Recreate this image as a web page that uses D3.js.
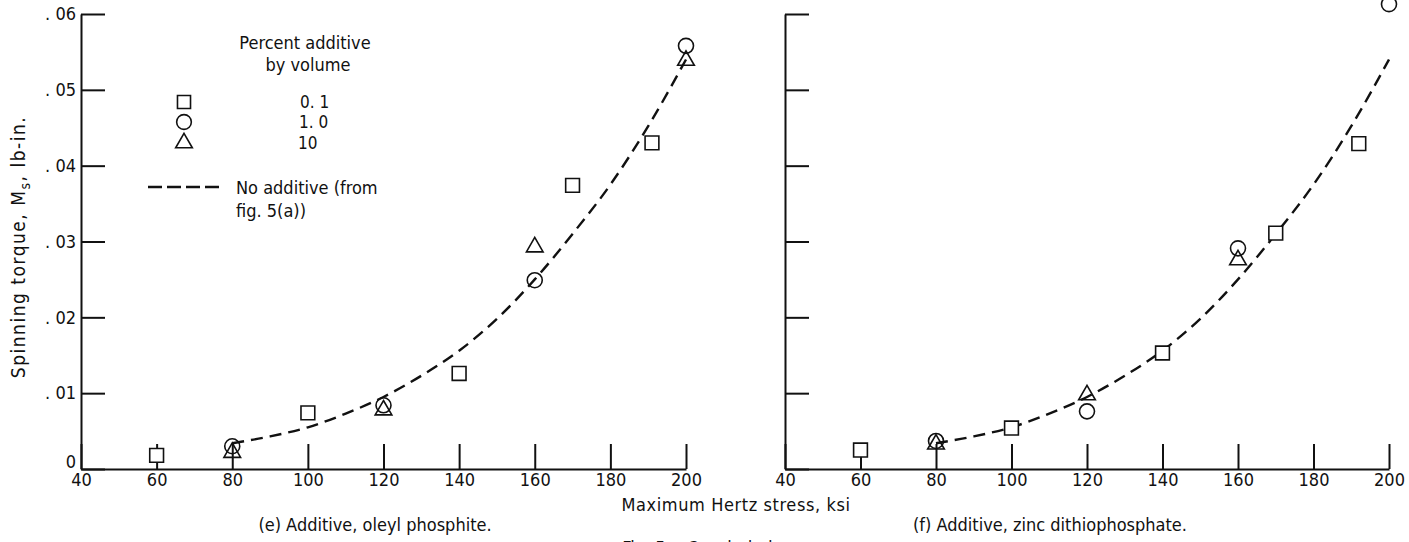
<!DOCTYPE html>
<html>
<head>
<meta charset="utf-8">
<script src="https://cdn.jsdelivr.net/npm/d3@7"></script>
<style>
  body { margin: 0; background: #fff; }
  svg { display: block; }
  text { font-family: "DejaVu Sans Condensed", "DejaVu Sans", sans-serif; font-stretch: condensed; fill: #111; }
  .axis path, .axis line { stroke: #111; stroke-width: 2; }
</style>
</head>
<body>
<svg id="chart"></svg>
<script>
// Fig. 5 (concluded) - spinning torque vs max Hertz stress

var xTicks = [40, 60, 80, 100, 120, 140, 160, 180, 200];
var yTicks = [0, 0.01, 0.02, 0.03, 0.04, 0.05, 0.06];
var yTickLabels = ["0", ". 01", ". 02", ". 03", ". 04", ". 05", ". 06"];

// "No additive (from fig. 5(a))" reference curve
var noAddStress = [80, 90, 100, 110, 120, 130, 140, 150, 160, 170, 180, 190, 200];
var noAddTorque = [0.0034, 0.0043, 0.0055, 0.0073, 0.0095, 0.0123, 0.0156, 0.0198, 0.0250, 0.0310, 0.0375, 0.0452, 0.0540];

// (e) oleyl phosphite
var eSquare = [[60, 0.0018], [100, 0.0074], [140, 0.0126], [170, 0.0374], [191, 0.0430]];
var eCircle = [[80, 0.0030], [120, 0.0084], [160, 0.0249], [200, 0.0558]];
var eTriangle = [[80, 0.0023], [120, 0.0079], [160, 0.0294], [200, 0.0540]];

// (f) zinc dithiophosphate
var fSquare = [[60, 0.0025], [100, 0.0054], [140, 0.0153], [170, 0.0311], [192, 0.0429]];
var fCircle = [[80, 0.0037], [120, 0.0076], [160, 0.0291], [200, 0.0613]];
var fTriangle = [[80, 0.0034], [120, 0.0099], [160, 0.0277]];

var legendLabels = ["0. 1", "1. 0", "10"];

var width = 1409, height = 542;
var svg = d3.select("#chart").attr("width", width).attr("height", height);

var y = d3.scaleLinear().domain([0, 0.06]).range([469, 14]);

var curve = noAddStress.map(function(s, i) { return [s, noAddTorque[i]]; });

function panel(x0, x1, showYLabels, squares, circles, triangles) {
    var x = d3.scaleLinear().domain([40, 200]).range([x0, x1]);
    var g = svg.append("g");

    var yAxis = d3.axisLeft(y)
        .tickValues(yTicks)
        .tickSize(-24)
        .tickSizeOuter(0)
        .tickPadding(5)
        .tickFormat(function(d, i) { return showYLabels ? yTickLabels[i] : ""; });

    var xAxis = d3.axisBottom(x)
        .tickValues(xTicks)
        .tickSize(-25)
        .tickSizeOuter(0)
        .tickPadding(4)
        .tickFormat(d3.format("d"));

    var ya = g.append("g").attr("class", "axis")
        .attr("transform", "translate(" + x0 + ",0)")
        .call(yAxis);
    ya.selectAll("text").style("font-size", "18px")
        .attr("dy", function(d) { return d == 0 ? "-0.08em" : "0.32em"; });
    var xa = g.append("g").attr("class", "axis")
        .attr("transform", "translate(0,469)")
        .call(xAxis);
    xa.selectAll("line").attr("stroke-width", 1.5);
    xa.selectAll("text").style("font-size", "18px");

    var line = d3.line()
        .x(function(d) { return x(d[0]); })
        .y(function(d) { return y(d[1]); })
        .curve(d3.curveMonotoneX);

    g.append("path")
        .datum(curve)
        .attr("d", line)
        .attr("fill", "none")
        .attr("stroke", "#111")
        .attr("stroke-width", 2.4)
        .attr("stroke-dasharray", "12,7");

    var sym = function(type, size) { return d3.symbol().type(type).size(size)(); };

    g.selectAll(".sq").data(squares).enter().append("path")
        .attr("d", sym(d3.symbolSquare, 190))
        .attr("transform", function(d) { return "translate(" + x(d[0]) + "," + y(d[1]) + ")"; })
        .attr("fill", "#fff").attr("stroke", "#111").attr("stroke-width", 1.6);

    g.selectAll(".ci").data(circles).enter().append("circle")
        .attr("cx", function(d) { return x(d[0]); })
        .attr("cy", function(d) { return y(d[1]); })
        .attr("r", 7.5)
        .attr("fill", "none").attr("stroke", "#111").attr("stroke-width", 1.6);

    g.selectAll(".tr").data(triangles).enter().append("path")
        .attr("d", sym(d3.symbolTriangle, 120))
        .attr("transform", function(d) { return "translate(" + x(d[0]) + "," + (y(d[1]) + 1) + ")"; })
        .attr("fill", "none").attr("stroke", "#111").attr("stroke-width", 1.6);

    return x;
}

panel(81, 686, true, eSquare, eCircle, eTriangle);
panel(785, 1389, false, fSquare, fCircle, fTriangle);

// legend
var lg = svg.append("g").style("font-size", "18px");
lg.append("text").attr("x", 305).attr("y", 49).attr("text-anchor", "middle").text("Percent additive");
lg.append("text").attr("x", 308).attr("y", 71).attr("text-anchor", "middle").text("by volume");
var legendSym = [d3.symbolSquare, d3.symbolCircle, d3.symbolTriangle];
var legendSize = [170, 170, 120];
var legendY = [102, 122, 143];
var legendX = [300, 299, 298];
legendLabels.forEach(function(t, i) {
    lg.append("path")
        .attr("d", d3.symbol().type(legendSym[i]).size(legendSize[i])())
        .attr("transform", "translate(184," + legendY[i] + ")")
        .attr("fill", "none").attr("stroke", "#111").attr("stroke-width", 1.6);
    lg.append("text").attr("x", legendX[i]).attr("y", legendY[i] + 6)
        .style("font-size", "17px").text(t);
});
lg.append("line").attr("x1", 148).attr("x2", 220).attr("y1", 187).attr("y2", 187)
    .attr("stroke", "#111").attr("stroke-width", 2.4).attr("stroke-dasharray", "14,5");
lg.append("text").attr("x", 236).attr("y", 194).text("No additive (from");
lg.append("text").attr("x", 236).attr("y", 217).text("fig.  5(a))");

// axis titles and captions
var yt = svg.append("text")
    .attr("transform", "translate(25,247) rotate(-90)")
    .attr("text-anchor", "middle")
    .style("font-size", "19px")
    .style("letter-spacing", "1.5px");
yt.append("tspan").text("Spinning torque,  M");
yt.append("tspan").attr("dy", 5).style("font-size", "14px").text("s");
yt.append("tspan").attr("dy", -5).text(",  lb-in.");

svg.append("text").attr("x", 736).attr("y", 511).attr("text-anchor", "middle")
    .style("font-size", "18px").style("letter-spacing", "0.6px").text("Maximum Hertz stress,  ksi");
svg.append("text").attr("x", 375).attr("y", 531).attr("text-anchor", "middle")
    .style("font-size", "18px").text("(e) Additive,  oleyl phosphite.");
svg.append("text").attr("x", 1050).attr("y", 531).attr("text-anchor", "middle")
    .style("font-size", "18px").text("(f) Additive,  zinc dithiophosphate.");
svg.append("text").attr("x", 700).attr("y", 554).attr("text-anchor", "middle")
    .style("font-size", "18px").text("Fig. 5. - Concluded.");
</script>
</body>
</html>
